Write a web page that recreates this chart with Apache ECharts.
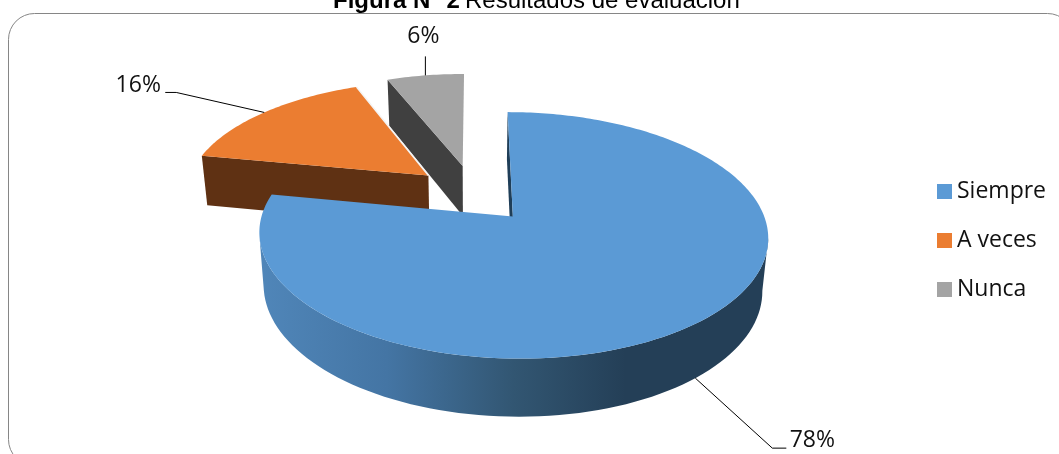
<!DOCTYPE html>
<html>
<head>
<meta charset="utf-8">
<style>html,body{margin:0;padding:0;background:#fff}#c{width:1059px;height:454px}</style>
<script src="https://cdn.jsdelivr.net/npm/echarts@6/dist/echarts.min.js"></script>
</head>
<body>
<div id="c"></div>
<script>
// ---- data ----
const categories = ['Siempre', 'A veces', 'Nunca'];
const percentValues = [78, 16, 6];
const chartTitleBold = 'Figura N° 2';
const chartTitleRest = 'Resultados de evaluación';

// ---- styles ----
const topColors = ['#5B9AD5', '#EB7D31', '#A4A4A4'];
const radialWallColors = ['#1F3E58', '#5F3113', '#404040'];
const labelFont = '"Open Sans", "Noto Sans", sans-serif';

// ---- perspective model of the tilted pie ----
const pie = { cx: 473.5, cy: 193.5, A: 244, B: 113.4, k: 0.149, explodeX: 0.2456, explodeY: 0.255, startDeg: -90 };
const base = { scaleX: 0.98, scaleY: 1.043, drop: 51 };
// Elbows of each leader, relative to where it touches its slice.
const leaderOffsets = [[[77, 70], [91, 70]], [[-88, -20], [-99, -20]], [[0, -19]]];
const labelOffsets = [[117, 62], [-126, -27], [-2, -39]];
const leaderOnBase = [true, false, false];
const separatedEdge = [false, true, false];

const rad = d => d * Math.PI / 180;
function project(X, Y) {
  const w = 1 / (1 - pie.k * Y);
  return [pie.cx + pie.A * X * w, pie.cy + pie.B * Y * w];
}
function toBase(p) {
  return [pie.cx + (p[0] - pie.cx) * base.scaleX, pie.cy + base.drop + (p[1] - pie.cy) * base.scaleY];
}
const total = percentValues.reduce((a, b) => a + b, 0);

function sliceGeom(i) {
  let before = 0;
  for (let j = 0; j < i; j++) before += percentValues[j];
  const a0 = pie.startDeg + before / total * 360;
  const a1 = a0 + percentValues[i] / total * 360;
  const mid = (a0 + a1) / 2;
  const ex = Math.cos(rad(mid)) * pie.explodeX, ey = Math.sin(rad(mid)) * pie.explodeY;
  const rim = a => project(ex + Math.cos(rad(a)), ey + Math.sin(rad(a)));
  return { a0, a1, mid, rim, apex: project(ex, ey) };
}
function poly(points, style, z2) {
  return { type: 'polygon', shape: { points }, style, z2: z2 || 0, silent: true };
}
function line(points, stroke, width, z2) {
  return { type: 'polyline', shape: { points }, style: { stroke, lineWidth: width, fill: null }, z2: z2 || 0, silent: true };
}

function renderSlice(i) {
  return function (params, api) {
    const g = sliceGeom(i);
    const children = [];
    // wall along the start radial
    const r0 = g.rim(g.a0);
    children.push(poly([r0, g.apex, toBase(g.apex), toBase(r0)], { fill: radialWallColors[i] }, 1));
    // front outer wall, only where the rim faces the viewer
    const frontFrom = Math.max(g.a0, 10), frontTo = Math.min(g.a1, 170);
    if (frontTo > frontFrom) {
      const upper = [], lower = [];
      for (let a = frontFrom; a <= frontTo; a += 2) { upper.push(g.rim(a)); lower.unshift(toBase(g.rim(a))); }
      children.push(poly(upper.concat(lower), {
        fill: { type: 'linear', x: 0, y: 0, x2: 1, y2: 0, colorStops: [
          { offset: 0, color: '#5086B9' }, { offset: 0.25, color: '#4475A4' },
          { offset: 0.5, color: '#325672' }, { offset: 0.72, color: '#243F57' }, { offset: 1, color: '#243F57' }
        ] }
      }, 2));
    }
    // top face
    const top = [g.apex];
    for (let a = g.a0; a < g.a1; a += 1) top.push(g.rim(a));
    top.push(g.rim(g.a1));
    children.push(poly(top, { fill: api.visual('color') }, 3));
    // thin light edge separating a slice from the one behind it
    if (separatedEdge[i]) children.push(line([g.rim(g.a1), g.apex], '#F4F4F4', 1.4, 3));
    // leader and label
    const touch = leaderOnBase[i] ? toBase(g.rim(g.mid)) : g.rim(g.mid);
    const path = [touch].concat(leaderOffsets[i].map(o => [touch[0] + o[0], touch[1] + o[1]]));
    children.push(line(path, '#000', 1, 4));
    children.push({
      type: 'text', z2: 5, silent: true,
      style: {
        x: touch[0] + labelOffsets[i][0], y: touch[1] + labelOffsets[i][1],
        text: percentValues[i] + '%', fill: '#111', fontSize: 23, fontFamily: labelFont,
        align: 'center', verticalAlign: 'middle'
      }
    });
    return { type: 'group', children };
  };
}

const chart = echarts.init(document.getElementById('c'), null, { renderer: 'canvas' });
chart.setOption({
  animation: false,
  backgroundColor: '#fff',
  title: {
    left: 333, top: -11, padding: 0,
    text: '{b|' + chartTitleBold + '} {r|' + chartTitleRest + '}',
    textStyle: {
      fontWeight: 'normal',
      rich: {
        b: { fontFamily: '"Liberation Sans"', fontSize: 24, fontWeight: 'bold', color: '#000' },
        r: { fontFamily: '"Liberation Sans"', fontSize: 24, fontWeight: 'normal', color: '#000' }
      }
    }
  },
  legend: {
    data: categories, orient: 'vertical', left: 937, top: 180, padding: 0,
    icon: 'rect', itemWidth: 15, itemHeight: 15, itemGap: 26, selectedMode: false,
    textStyle: { fontFamily: labelFont, fontSize: 23, color: '#111', padding: [0, 0, 0, 0] }
  },
  graphic: [{
    type: 'rect', z: -1, silent: true,
    shape: { x: 8.5, y: 13.5, width: 1065, height: 452, r: 26 },
    style: { fill: 'none', stroke: '#868686', lineWidth: 1 }
  }],
  series: categories.map((name, i) => ({
    type: 'custom', name, coordinateSystem: 'none',
    z: 3 - i + 1, silent: true,
    itemStyle: { color: topColors[i] },
    data: [percentValues[i]],
    renderItem: renderSlice(i)
  }))
});
</script>
</body>
</html>
